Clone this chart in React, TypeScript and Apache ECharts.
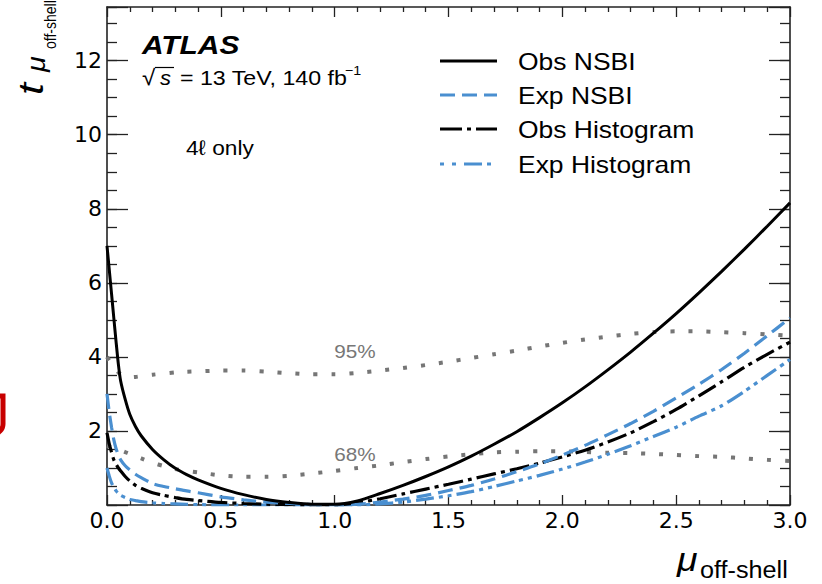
import React, { useEffect, useRef } from "react";
import * as echarts from "echarts";

// shared x grid (mu_off-shell)
const MU = [0, 0.01, 0.02, 0.03, 0.04, 0.05, 0.06, 0.08, 0.1, 0.125, 0.15, 0.2, 0.25, 0.3, 0.35, 0.4,
  0.5, 0.6, 0.7, 0.8, 0.9, 1.0, 1.1, 1.2, 1.3, 1.4, 1.5, 1.6, 1.7, 1.8, 1.9, 2.0,
  2.1, 2.2, 2.3, 2.4, 2.5, 2.6, 2.7, 2.8, 2.9, 3.0];

const OBS_NSBI = [7.0, 6.35, 5.7, 5.05, 4.4, 3.8, 3.35, 2.85, 2.45, 2.12, 1.87, 1.5, 1.22, 0.99, 0.82, 0.68,
  0.45, 0.28, 0.15, 0.07, 0.02, 0.02, 0.11, 0.31, 0.53, 0.77, 1.03, 1.32, 1.64, 1.98, 2.36, 2.76,
  3.19, 3.65, 4.13, 4.64, 5.17, 5.73, 6.31, 6.91, 7.53, 8.16];

const EXP_NSBI = [3.0, 2.5, 2.1, 1.76, 1.52, 1.35, 1.22, 1.06, 0.95, 0.83, 0.74, 0.58, 0.5, 0.44, 0.38, 0.33,
  0.22, 0.14, 0.08, 0.04, 0.01, 0.0, 0.02, 0.08, 0.16, 0.26, 0.39, 0.53, 0.7, 0.9, 1.11, 1.35,
  1.61, 1.9, 2.2, 2.53, 2.89, 3.26, 3.66, 4.1, 4.57, 5.05];

const OBS_HIST = [1.95, 1.65, 1.42, 1.22, 1.1, 1.0, 0.92, 0.77, 0.65, 0.53, 0.45, 0.33, 0.26, 0.2, 0.15, 0.12,
  0.07, 0.04, 0.02, 0.01, 0.0, 0.0, 0.06, 0.17, 0.3, 0.43, 0.56, 0.7, 0.84, 0.98, 1.13, 1.3,
  1.48, 1.7, 1.95, 2.25, 2.58, 2.95, 3.33, 3.72, 4.07, 4.4];

const EXP_HIST = [1.0, 0.78, 0.6, 0.48, 0.38, 0.31, 0.26, 0.2, 0.15, 0.12, 0.09, 0.06, 0.04, 0.03, 0.02, 0.01,
  0.0, 0.0, 0.0, 0.0, 0.0, 0.0, 0.0, 0.03, 0.08, 0.16, 0.25, 0.36, 0.5, 0.65, 0.8, 0.97,
  1.16, 1.37, 1.6, 1.85, 2.1, 2.4, 2.68, 3.07, 3.5, 3.93];

const CL95 = [4.0, 3.9, 3.8, 3.72, 3.65, 3.58, 3.53, 3.47, 3.45, 3.46, 3.48, 3.52, 3.55, 3.58, 3.6, 3.61,
  3.63, 3.63, 3.6, 3.56, 3.53, 3.53, 3.57, 3.63, 3.7, 3.78, 3.87, 3.97, 4.07, 4.17, 4.28, 4.38,
  4.47, 4.55, 4.62, 4.67, 4.69, 4.69, 4.67, 4.64, 4.61, 4.57];

const CL68 = [1.6, 1.58, 1.56, 1.54, 1.52, 1.5, 1.48, 1.43, 1.38, 1.32, 1.26, 1.14, 1.05, 0.97, 0.92, 0.88,
  0.8, 0.76, 0.76, 0.79, 0.85, 0.92, 1.0, 1.07, 1.16, 1.24, 1.31, 1.37, 1.42, 1.44, 1.45, 1.45,
  1.43, 1.41, 1.4, 1.38, 1.35, 1.32, 1.3, 1.26, 1.22, 1.19];

const SERIES_NAMES = ["Obs NSBI", "Exp NSBI", "Obs Histogram", "Exp Histogram"];
const Y_TICK_LABELS = [2, 4, 6, 8, 10, 12];

const F = "'Liberation Sans', Arial, Helvetica, sans-serif";
const BLUE = "#4a8fd0";
const GRAY = "#767676";

const pts = (ys: number[]) => MU.map((x, i) => [x, ys[i]]);

function txt(text: string, x: number, y: number, size: number, extra: any = {}) {
  const { scaleX = 1.15, scaleY = 1, align = "left", fill = "#000", fontStyle = "normal", fontWeight = "normal", family = F } = extra;
  return {
    type: "text",
    x,
    y,
    scaleX,
    scaleY,
    silent: true,
    style: { text, fontSize: size, fontFamily: family, fontStyle, fontWeight, fill, align, verticalAlign: "middle" },
  };
}

export default function App() {
  const ref = useRef<HTMLDivElement>(null);
  useEffect(() => {
    document.body.style.margin = "0";
    const chart = echarts.init(ref.current!, null, { renderer: "svg" });
    const axisCol = "#222";
    const tickFont = { fontFamily: "'DejaVu Sans', sans-serif", fontSize: 22, color: "#000" };
    const xBase = (pos: string, labels: boolean) => ({
      type: "value",
      position: pos,
      min: 0,
      max: 3,
      interval: 0.5,
      axisLine: { show: true, onZero: false, lineStyle: { color: axisCol, width: 1.6 } },
      axisTick: { show: true, inside: true, length: 10, lineStyle: { color: axisCol, width: 1.3 } },
      minorTick: { show: true, splitNumber: 5, length: 5, lineStyle: { color: axisCol, width: 1.3 } },
      axisLabel: { show: labels, margin: 4, formatter: (v: number) => v.toFixed(1), ...tickFont },
      splitLine: { show: false },
    });
    const yBase = (pos: string, interval: number, len: number, line: boolean, labels: boolean) => ({
      type: "value",
      position: pos,
      min: 0,
      max: 13.45,
      interval,
      axisLine: { show: line, onZero: false, lineStyle: { color: axisCol, width: 1.6 } },
      axisTick: { show: true, inside: true, length: len, lineStyle: { color: axisCol, width: 1.3 } },
      axisLabel: {
        show: labels,
        margin: 5,
        formatter: (v: number) => (Y_TICK_LABELS.includes(v) ? String(v) : ""),
        ...tickFont,
      },
      splitLine: { show: false },
    });

    const line = (name: string, ys: number[], color: string, width: number, type: any) => ({
      name,
      type: "line",
      data: pts(ys),
      showSymbol: false,
      symbol: "none",
      smooth: 0.25,
      xAxisIndex: 0,
      yAxisIndex: 0,
      lineStyle: { color, width, type, cap: "butt" },
      silent: true,
    });

    const legendStyles = [
      { color: "#000", width: 3.2, dash: null },
      { color: BLUE, width: 3.2, dash: [15, 7] },
      { color: "#000", width: 3.2, dash: [22, 5, 4, 5] },
      { color: BLUE, width: 3.2, dash: [4, 8, 4, 8, 18, 5] },
    ];
    const legendY = [61, 95, 129, 164];
    const legendGraphics: any[] = [];
    SERIES_NAMES.forEach((n, i) => {
      const s = legendStyles[i];
      legendGraphics.push({
        type: "line",
        silent: true,
        shape: { x1: 440, y1: legendY[i], x2: 497, y2: legendY[i] },
        style: { stroke: s.color, lineWidth: s.width, lineDash: s.dash || undefined, lineCap: "butt" },
      });
      legendGraphics.push(txt(n, 518, legendY[i] + 1, 23));
    });

    const option: any = {
      animation: false,
      backgroundColor: "#fff",
      grid: { left: 107, right: 32, top: 7, bottom: 79, containLabel: false },
      xAxis: [xBase("bottom", true), xBase("top", false)],
      yAxis: [
        yBase("left", 2, 21, true, true),
        yBase("left", 0.5, 10, false, false),
        yBase("right", 2, 21, true, false),
        yBase("right", 0.5, 10, false, false),
      ],
      series: [
        line("95%", CL95, GRAY, 4, [4, 14]),
        line("68%", CL68, GRAY, 4, [4, 14]),
        line(SERIES_NAMES[3], EXP_HIST, BLUE, 3.2, [18, 5, 4, 5, 4, 5]),
        line(SERIES_NAMES[2], OBS_HIST, "#000", 3.2, [20, 5, 4, 5]),
        line(SERIES_NAMES[1], EXP_NSBI, BLUE, 3.2, [15, 7]),
        line(SERIES_NAMES[0], OBS_NSBI, "#000", 3, "solid"),
      ],
      graphic: [
        ...legendGraphics,
        txt("ATLAS", 142, 45, 26, { fontStyle: "italic", fontWeight: "bold" }),
        txt("√", 142, 77, 22, { scaleX: 1.1 }),
        {
          type: "line",
          silent: true,
          shape: { x1: 155, y1: 67.5, x2: 174, y2: 67.5 },
          style: { stroke: "#000", lineWidth: 1.2 },
        },
        txt("s", 160, 78, 20, { fontStyle: "italic", scaleX: 1.1 }),
        txt("= 13 TeV, 140 fb", 180, 78, 20, { scaleX: 1.16 }),
        txt("−1", 345, 71, 13, { scaleX: 1.1 }),
        txt("4ℓ only", 186, 147.5, 21, { scaleX: 1.08 }),
        txt("95%", 355, 352, 18, { align: "center", fill: "#777" }),
        txt("68%", 355, 455, 18, { align: "center", fill: "#777" }),
        {
          type: "group",
          x: 43,
          y: 97,
          rotation: Math.PI / 2,
          children: [
            txt("t", 2, -12.6, 36, { fontStyle: "italic", scaleX: 1.2 }),
            txt("μ", 25, -7, 26, { fontStyle: "italic", scaleX: 1.1 }),
            txt("off-shell", 48, 7.1, 14, { scaleX: 1.0, scaleY: 1.2 }),
          ],
        },
        txt("μ", 677, 560, 34, { fontStyle: "italic", scaleX: 1.1 }),
        txt("off-shell", 700, 569.6, 24, { scaleX: 1.05 }),
        {
          type: "rect",
          silent: true,
          shape: { x: -20, y: 396, width: 23, height: 38, r: [0, 0, 10, 10] },
          style: { fill: "none", stroke: "#c80000", lineWidth: 5 },
        },
      ],
    };
    chart.setOption(option);
    return () => chart.dispose();
  }, []);
  return <div ref={ref} style={{ width: 822, height: 584 }} />;
}
